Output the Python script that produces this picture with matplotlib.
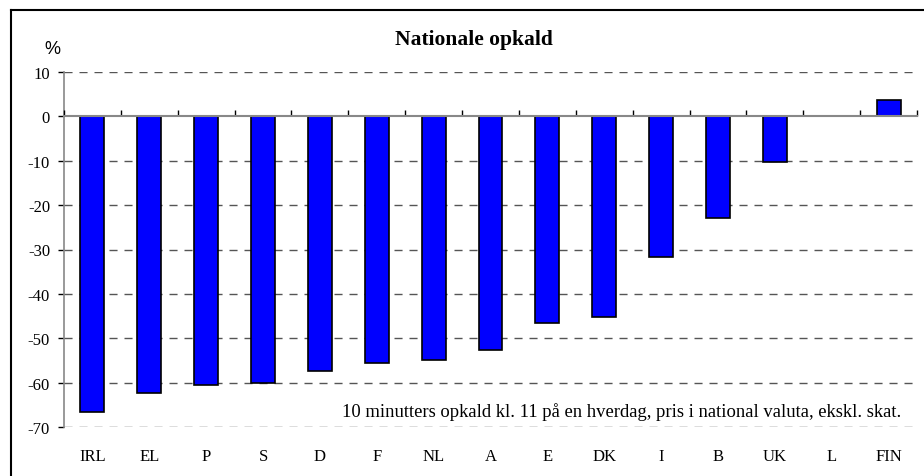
import numpy as np
import matplotlib.pyplot as plt
from matplotlib.lines import Line2D

# Nationale opkald, ændring i %
lande = ['IRL', 'EL', 'P', 'S', 'D', 'F', 'NL', 'A', 'E', 'DK', 'I', 'B', 'UK', 'L', 'FIN']
aendring = [-66.6, -62.4, -60.5, -60.0, -57.4, -55.6, -54.8, -52.7, -46.6, -45.1, -31.6, -22.8, -10.2, 0.0, 3.8]
yticks = [10, 0, -10, -20, -30, -40, -50, -60, -70]

plt.rcParams['font.family'] = ['Liberation Serif', 'DejaVu Serif']

fig = plt.figure(figsize=(9.24, 4.77), dpi=100)
ax = fig.add_axes([64 / 924, 1 - 428 / 477, 853 / 924, 355 / 477])

x = np.arange(len(lande))
ax.bar(x, aendring, width=0.42, color='#0000FF', edgecolor='black', linewidth=1.2, zorder=3)

ax.set_xlim(-0.5, len(lande) - 0.5)
ax.set_ylim(-70, 10)

# stiplede gitterlinjer (ikke ved 0)
for v in yticks:
    if v != 0:
        ax.axhline(v, color='#555555', linewidth=1.0, linestyle=(0, (5.8, 5)), zorder=1)

ax.set_yticks(yticks)
ax.set_yticklabels([str(v) for v in yticks], fontsize=12)
ax.tick_params(axis='y', direction='out', length=4, width=1, color='black', pad=6)

ax.set_xticks(x)
ax.set_xticklabels(lande, fontsize=12)
ax.tick_params(axis='x', length=0, pad=15)

for s in ['top', 'right', 'bottom']:
    ax.spines[s].set_visible(False)
ax.spines['left'].set_color('#888888')
ax.spines['left'].set_linewidth(1.2)

# x-akse ved 0 med små streger mellem landene
sec = ax.secondary_xaxis(70 / 80)
sec.set_xticks(np.arange(-0.5, len(lande), 1.0))
sec.set_xticklabels([])
sec.tick_params(direction='out', length=4, width=1, color='black')
sec.spines['top'].set_color('#888888')
sec.spines['top'].set_linewidth(1.5)
sec.spines['bottom'].set_visible(False)
sec.set_zorder(4)

fig.text(474 / 924, 1 - 40 / 477, 'Nationale opkald', ha='center', va='center',
         fontsize=15.5, fontweight='bold')
fig.text(52 / 924, 1 - 49 / 477, '%', ha='center', va='center', fontsize=13,
         family=['Liberation Sans', 'DejaVu Sans'])
ax.text(0.326, -66.5, '10 minutters opkald kl. 11 på en hverdag, pris i national valuta, ekskl. skat.',
        ha='left', va='center', fontsize=13.4, zorder=4,
        transform=ax.get_yaxis_transform())

# ramme om diagrammet
fig.add_artist(Line2D([11 / 924, 11 / 924], [0, 1 - 11 / 477], color='black', linewidth=1.5))
fig.add_artist(Line2D([11 / 924, 1], [1 - 11 / 477, 1 - 11 / 477], color='black', linewidth=1.5))

fig.savefig('out.png', dpi=100)
